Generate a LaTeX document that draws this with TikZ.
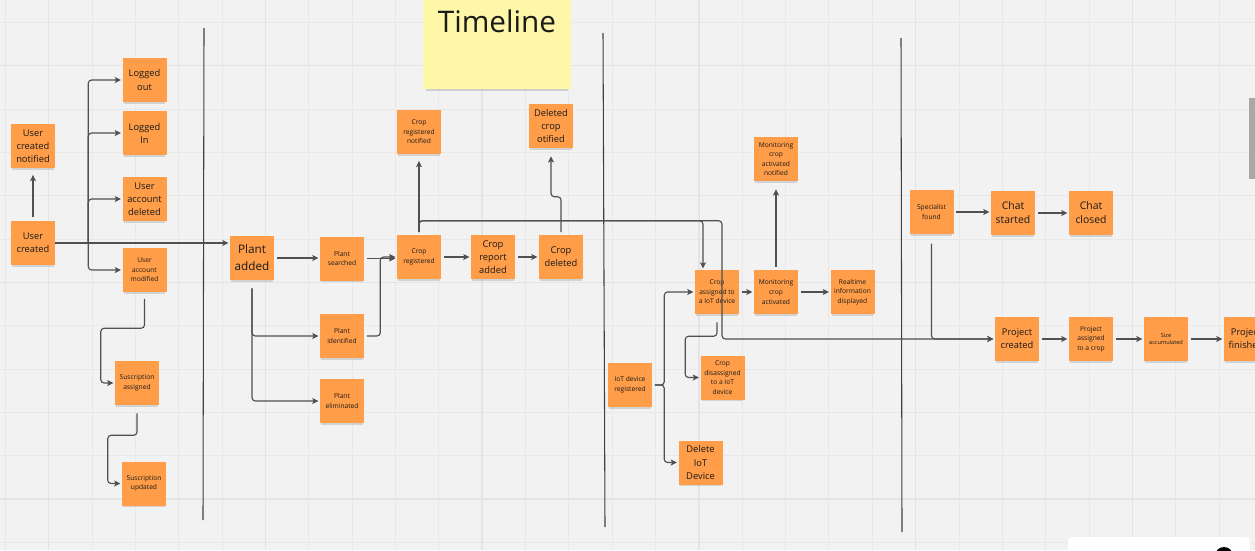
\documentclass[tikz,border=0pt]{standalone}
\usepackage{fontspec}
\setmainfont{Open Sans}
\usetikzlibrary{arrows.meta,shadows,calc}
\definecolor{bggray}{HTML}{F2F2F2}
\definecolor{gridthin}{HTML}{E8E8E8}
\definecolor{gridthick}{HTML}{E4E4E4}
\definecolor{noteorange}{HTML}{FF9D48}
\definecolor{noteyellow}{HTML}{FFF7A8}
\definecolor{linegray}{HTML}{505050}
\definecolor{ink}{HTML}{1A1A1A}
\definecolor{scrollgray}{HTML}{A8A8A8}
\begin{document}
\begin{tikzpicture}[x=0.75pt,y=-0.75pt,
 note/.style={fill=noteorange, minimum width=33pt, minimum height=33pt, inner sep=0pt, align=center, text=ink,
   drop shadow={opacity=0.28, shadow xshift=0pt, shadow yshift=-2.2pt, shadow scale=0.95}},
 tlnote/.style={fill=noteyellow, minimum width=111pt, minimum height=76pt, inner sep=0pt,
   drop shadow={opacity=0.3, shadow xshift=0pt, shadow yshift=-3.5pt, shadow scale=0.96}},
 fs/.style={font=\fontsize{5}{7.2}\selectfont},
 fm/.style={font=\fontsize{7}{9.8}\selectfont},
 fmm/.style={font=\fontsize{7.8}{10.5}\selectfont},
 fl/.style={font=\fontsize{8.8}{12.8}\selectfont},
 ft/.style={font=\fontsize{4.2}{5.6}\selectfont},
 conn/.style={draw=linegray, line width=0.85pt, rounded corners=2.5pt,
   -{Stealth[length=4.6pt,width=4.4pt,inset=1pt]}, shorten <=2pt, shorten >=1pt},
 link/.style={draw=linegray, line width=0.85pt},
 divider/.style={draw=black!75, line width=0.8pt},
 thinline/.style={draw=gridthin, line width=0.75pt},
 thickline/.style={draw=gridthick, line width=1.1pt},
]
\useasboundingbox (0,0) rectangle (1255,550);
\clip (0,0) rectangle (1255,550);
\fill[bggray] (0,0) rectangle (1255,550);
% grid
\foreach \k in {0,...,28} { \draw[thinline] ({5.3+43.35*\k},0) -- ++(0,550); }
\foreach \k in {0,...,12} { \draw[thinline] (0,{22.3+43.35*\k}) -- ++(1255,0); }
\foreach \k in {1,6,11,16,21,26} { \draw[thickline] ({5.3+43.35*\k},0) -- ++(0,550); }
\foreach \k in {1,6,11} { \draw[thickline] (0,{22.3+43.35*\k}) -- ++(1255,0); }

% dividers
\draw[divider] (204,28) -- (203,520);
\draw[divider] (603,33) -- (605,527);
\draw[divider] (901,38) -- (902,532);

% timeline note
\node[tlnote] (tl) at (497,38) {};
\node[font=\fontsize{22.3}{26}\selectfont, text=ink] (tltext) at (497,21) {Timeline};

% notes
\node[note,fm] (ucn) at (33,146) {User\\created\\notified};
\node[note,fm] (uc) at (33,243) {User\\created};
\node[note,fm] (lo) at (144.5,80) {Logged\\out};
\node[note,fm] (li) at (144.5,133) {Logged\\In};
\node[note,fm] (uad) at (144.5,199) {User\\account\\deleted};
\node[note,fs] (uam) at (144.5,270) {User\\account\\modified};
\node[note,fs] (sa) at (137,383) {Suscription\\assigned};
\node[note,fs] (su) at (144,483.5) {Suscription\\updated};
\node[note,fl] (pa) at (252,258) {Plant\\added};
\node[note,fs] (ps) at (342,258.5) {Plant\\searched};
\node[note,fs] (pi) at (342,336) {Plant\\identified};
\node[note,fs] (pe) at (342,401) {Plant\\eliminated};
\node[note,fs] (cr) at (419,257) {Crop\\registered};
\node[note,fs] (crn) at (419,132) {Crop\\registered\\notified};
\node[note,fm] (cra) at (493,257) {Crop\\report\\added};
\node[note,fm] (cd) at (561,257) {Crop\\deleted};
\node[note,fm] (dco) at (551,126) {Deleted\\crop\\otified};
\node[note,fs] (ca) at (717,292) {Crop\\assigned to\\a IoT device};
\node[note,fs] (mca) at (776,292) {Monitoring\\crop\\activated};
\node[note,fs] (rid) at (852.5,292) {Realtime\\information\\displayed};
\node[note,fs] (mcan) at (776,159) {Monitoring\\crop\\activated\\notified};
\node[note,fs] (iot) at (630,385) {IoT device\\registered};
\node[note,fs] (cdis) at (722.5,377.5) {Crop\\disassigned\\to a IoT\\device};
\node[note,fm] (did) at (700.5,462.5) {Delete\\IoT\\Device};
\node[note,fs] (sf) at (931.5,212) {Specialist\\found};
\node[note,fmm] (cs) at (1013,213) {Chat\\started};
\node[note,fmm] (cc) at (1091,213) {Chat\\closed};
\node[note,fm] (pc) at (1017,339) {Project\\created};
\node[note,fs] (pac) at (1091,339) {Project\\assigned\\to a crop};
\node[note,ft] (sac) at (1166,339) {Size\\accumulated};
\node[note,fm] (pf) at (1246,339) {Project\\finished};

% connectors
\draw[conn, shorten <=3pt, shorten >=5pt] (uc.north) -- (ucn.south);
\coordinate (ut) at ($(uc.east)+(33,0)$);
\draw[link] (uc.east) -- (ut);
\draw[conn, shorten <=0pt] (ut) |- (lo.west);
\draw[conn, shorten <=0pt] (ut) |- (li.west);
\draw[conn, shorten <=0pt] (ut) |- (uad.west);
\draw[conn, shorten <=0pt] (ut) |- (uam.west);
\draw[conn, shorten <=0pt] (uc.east) -- (uc.east -| pa.west);
\draw[conn, shorten <=5pt] (uam.south) -- ++(0,36) -| ($(sa.west)+(-14,0)$) -- (sa.west);
\draw[conn, shorten <=6pt] (sa.south) -- ++(0,30) -| ($(su.west)+(-14,0)$) -- (su.west);
\draw[conn] (pa.east) -- (pa.east -| ps.west);
\draw[conn, shorten <=6pt] (pa.south) |- (pi.west);
\draw[conn, shorten <=6pt] (pa.south) |- (pe.west);
\draw[conn] (ps.east) -- (ps.east -| cr.west);
\draw[conn] (pi.east) -- ++(16,0) |- (cr.west);
\draw[conn, shorten >=5pt] (cr.north) -- (crn.south);
\draw[conn] (cr.east) -- (cra.west);
\draw[conn] (cra.east) -- (cd.west);
\draw[conn, shorten >=6pt] (cd.north) -- ++(0,-38) -| (dco.south);
\draw[conn] (cr.north) -- ++(0,-14) -| ($(ca.north)+(-14,0)$);
\draw[conn] (cr.north) -- ++(0,-14) -| ($(ca.south)+(5,0)$) |- (pc.west);
\draw[conn] (iot.east) -- ++(12,0) |- (ca.west);
\draw[conn] (iot.east) -- ++(12,0) |- (did.west);
\draw[conn, shorten <=6pt] (ca.south) -- ++(0,22) -| ($(cdis.west)+(-15,0)$) -- (cdis.west);
\draw[conn] (ca.east) -- (mca.west);
\draw[conn] (mca.east) -- (rid.west);
\draw[conn, shorten >=6pt] (mca.north) -- (mcan.south);
\draw[conn] (sf.east) -- (sf.east -| cs.west);
\draw[conn] (cs.east) -- (cc.west);
\draw[conn, shorten <=7pt] (sf.south) |- (pc.west);
\draw[conn] (pc.east) -- (pac.west);
\draw[conn] (pac.east) -- (sac.west);
\draw[conn] (sac.east) -- (pf.west);

% interface elements
\fill[scrollgray] (1249,98) rectangle (1255,179);
\fill[white, rounded corners=3pt] (1068,537) rectangle (1250,565);
\fill[black] (1224,556) circle (9);
\end{tikzpicture}
\end{document}
